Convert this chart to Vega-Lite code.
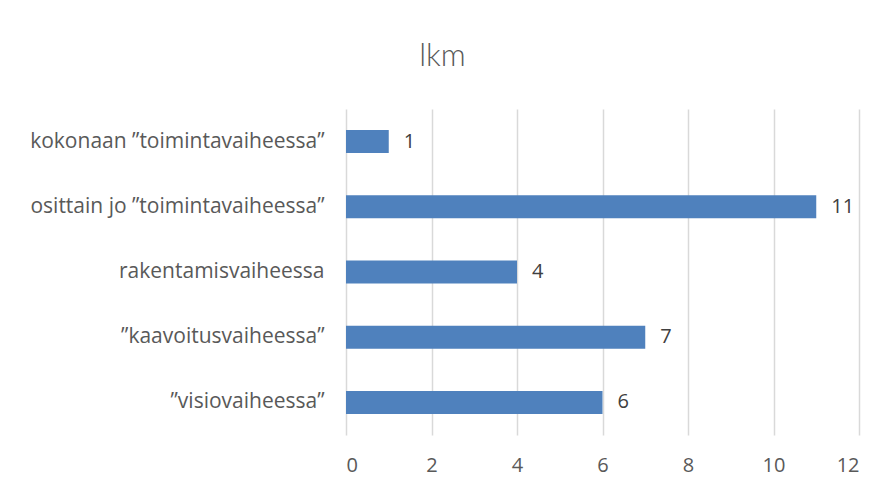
{
  "$schema": "https://vega.github.io/schema/vega-lite/v6.json",
  "width": 513,
  "height": 326,
  "autosize": {"type": "none"},
  "padding": {"left": 346, "top": 109, "right": 28, "bottom": 54},
  "background": "white",
  "title": {
    "text": "lkm",
    "fontSize": 31,
    "font": "Lato",
    "fontWeight": 300,
    "color": "#595959",
    "anchor": "middle",
    "dx": -160,
    "baseline": "alphabetic",
    "offset": 12
  },
  "data": {
    "values": [
      {"vaihe": "kokonaan ”toimintavaiheessa”", "lkm": 1},
      {"vaihe": "osittain jo ”toimintavaiheessa”", "lkm": 11},
      {"vaihe": "rakentamisvaiheessa", "lkm": 4},
      {"vaihe": "”kaavoitusvaiheessa”", "lkm": 7},
      {"vaihe": "”visiovaiheessa”", "lkm": 6}
    ]
  },
  "encoding": {
    "y": {
      "field": "vaihe",
      "type": "nominal",
      "sort": null,
      "title": null,
      "scale": {"paddingInner": 0.647, "paddingOuter": 0.3235},
      "axis": {
        "domain": false,
        "ticks": false,
        "grid": false,
        "labelFont": "Open Sans",
        "labelFontSize": 21,
        "labelColor": "#595959",
        "labelPadding": 22,
        "labelLimit": 400
      }
    },
    "x": {
      "field": "lkm",
      "type": "quantitative",
      "title": null,
      "scale": {"domain": [0, 12], "nice": false},
      "axis": {
        "values": [0, 2, 4, 6, 8, 10, 12],
        "domain": false,
        "ticks": false,
        "grid": true,
        "gridColor": "#d9d9d9",
        "gridWidth": 1.5,
        "labelFont": "Open Sans",
        "labelFontSize": 20,
        "labelColor": "#595959",
        "labelPadding": 20
      }
    }
  },
  "layer": [
    {"mark": {"type": "bar", "color": "#4f81bd"}},
    {
      "mark": {"type": "text", "align": "left", "dx": 15, "font": "Open Sans", "fontSize": 20, "color": "#404040"},
      "encoding": {"text": {"field": "lkm", "type": "quantitative"}}
    }
  ],
  "config": {"view": {"stroke": null}}
}
